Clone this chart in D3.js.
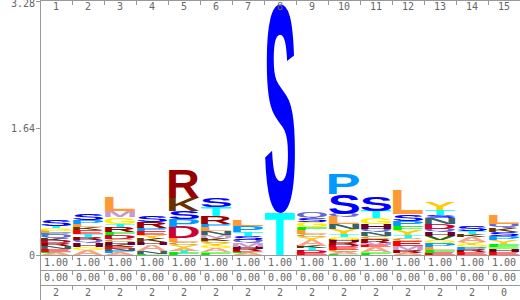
<!DOCTYPE html>
<html>
<head>
<meta charset="utf-8">
<script src="https://cdn.jsdelivr.net/npm/d3@7"></script>
<style>
  body { margin: 0; background: #fff; }
  svg { display: block; }
  .axis text, .lbl { font-family: "DejaVu Sans Mono", monospace; font-size: 10px; fill: #666; }
  .axis line, .axis path, .rule { stroke: #999; shape-rendering: crispEdges; }
</style>
</head>
<body>
<svg id="chart"></svg>
<script>
const positions = [1, 2, 3, 4, 5, 6, 7, 8, 9, 10, 11, 12, 13, 14, 15];
const yTicks = [0, 1.64, 3.28];

// letters of each column, bottom to top
const columnLetters = [
  ["A", "F", "E", "N", "R", "D", "K", "Q", "P", "L", "G", "T", "S"],
  ["A", "G", "H", "Q", "R", "T", "E", "K", "L", "P", "S"],
  ["A", "P", "N", "E", "K", "H", "C", "D", "F", "R", "T", "G", "M", "L"],
  ["F", "N", "A", "H", "K", "Y", "E", "P", "R", "S"],
  ["F", "T", "A", "Y", "C", "L", "D", "P", "S", "K", "R"],
  ["F", "I", "A", "G", "Y", "C", "K", "M", "N", "L", "P", "R", "T", "S"],
  ["A", "F", "E", "R", "H", "M", "Q", "S", "T", "P", "L"],
  ["T", "S"],
  ["E", "D", "T", "K", "A", "Y", "C", "L", "F", "G", "S", "Q"],
  ["F", "A", "C", "E", "D", "R", "H", "G", "T", "Y", "N", "L", "Q", "S", "P"],
  ["F", "I", "A", "E", "M", "R", "C", "N", "Q", "H", "G", "T", "S"],
  ["A", "R", "M", "E", "C", "T", "Y", "F", "P", "S", "L"],
  ["E", "F", "L", "P", "G", "V", "H", "Q", "D", "N", "S", "T", "Y"],
  ["E", "R", "P", "G", "Y", "A", "K", "T", "S"],
  ["E", "H", "I", "F", "Y", "P", "S", "K", "Q", "L"]
];

// information content (bits) of each letter, same order
const columnBits = [
  [0.026, 0.013, 0.039, 0.039, 0.039, 0.026, 0.026, 0.052, 0.026, 0.026, 0.039, 0.026, 0.077],
  [0.065, 0.039, 0.052, 0.039, 0.039, 0.039, 0.052, 0.039, 0.039, 0.052, 0.090],
  [0.026, 0.026, 0.026, 0.026, 0.026, 0.039, 0.039, 0.052, 0.039, 0.065, 0.039, 0.090, 0.077, 0.181],
  [0.013, 0.039, 0.077, 0.039, 0.052, 0.039, 0.052, 0.039, 0.077, 0.090],
  [0.026, 0.026, 0.026, 0.052, 0.039, 0.052, 0.142, 0.103, 0.103, 0.168, 0.362],
  [0.026, 0.013, 0.052, 0.026, 0.039, 0.026, 0.039, 0.039, 0.052, 0.052, 0.039, 0.103, 0.116, 0.116],
  [0.026, 0.013, 0.013, 0.026, 0.026, 0.052, 0.039, 0.052, 0.052, 0.077, 0.077],
  [0.54, 2.70],
  [0.026, 0.039, 0.026, 0.026, 0.077, 0.039, 0.039, 0.052, 0.039, 0.065, 0.052, 0.077],
  [0.013, 0.026, 0.026, 0.039, 0.026, 0.039, 0.026, 0.039, 0.039, 0.065, 0.065, 0.090, 0.039, 0.258, 0.271],
  [0.026, 0.013, 0.065, 0.026, 0.026, 0.052, 0.039, 0.052, 0.039, 0.065, 0.077, 0.090, 0.180],
  [0.026, 0.039, 0.052, 0.065, 0.039, 0.039, 0.065, 0.052, 0.065, 0.090, 0.310],
  [0.026, 0.039, 0.039, 0.052, 0.039, 0.052, 0.052, 0.039, 0.065, 0.077, 0.039, 0.065, 0.090],
  [0.039, 0.026, 0.039, 0.026, 0.039, 0.065, 0.039, 0.039, 0.065],
  [0.039, 0.039, 0.026, 0.039, 0.052, 0.052, 0.052, 0.052, 0.052, 0.116]
];

const row1Labels = ["1.00", "1.00", "1.00", "1.00", "1.00", "1.00", "1.00", "1.00", "1.00", "1.00", "1.00", "1.00", "1.00", "1.00", "1.00"];
const row2Labels = ["0.00", "0.00", "0.00", "0.00", "0.00", "0.00", "0.00", "0.00", "0.00", "0.00", "0.00", "0.00", "0.00", "0.00", "0.00"];
const row3Labels = ["2", "2", "2", "2", "2", "2", "2", "2", "2", "2", "2", "2", "2", "2", "0"];

const letterColors = {
  A: "#f9a184", C: "#cc9933", D: "#cc0033", E: "#ff0000", F: "#00ee00",
  G: "#ffee00", H: "#660033", I: "#88ff66", K: "#663300", L: "#ff9933",
  M: "#cc99cc", N: "#336666", P: "#0099ff", Q: "#6666cc", R: "#990000",
  S: "#0000ff", T: "#00ffff", V: "#336600", W: "#66cc99", Y: "#ffcc00"
};

const width = 520, height = 300;
const margin = { left: 40, right: 0, top: 1, base: 255 };

const svg = d3.select("#chart").attr("width", width).attr("height", height);

const x = d3.scaleBand().domain(positions).range([margin.left, width]);
const y = d3.scaleLinear().domain([0, 3.28]).range([margin.base, margin.top]);

// ink box of each glyph, measured once on a canvas
const glyphFont = "bold 200px 'Liberation Sans', Arial, sans-serif";
const ctx = document.createElement("canvas").getContext("2d");
ctx.font = glyphFont;
const glyphBox = {};
Object.keys(letterColors).forEach(ch => {
  const m = ctx.measureText(ch);
  glyphBox[ch] = {
    left: m.actualBoundingBoxLeft, top: m.actualBoundingBoxAscent,
    w: m.actualBoundingBoxLeft + m.actualBoundingBoxRight,
    h: m.actualBoundingBoxAscent + m.actualBoundingBoxDescent
  };
});

// stacks
const stacks = positions.map((p, i) => {
  let acc = 0;
  return columnLetters[i].map((ch, j) => {
    const v = columnBits[i][j];
    const d = { pos: p, ch: ch, y0: acc, y1: acc + v };
    acc += v;
    return d;
  });
});

const logo = svg.append("g");
logo.selectAll("g.col")
  .data(stacks)
  .join("g")
  .attr("class", "col")
  .selectAll("text")
  .data(d => d)
  .join("text")
  .attr("font-family", "'Liberation Sans', Arial, sans-serif")
  .attr("font-weight", "bold")
  .attr("font-size", 200)
  .attr("fill", d => letterColors[d.ch])
  .attr("transform", d => {
    const b = glyphBox[d.ch];
    const x0 = x(d.pos) + 1, w = x.bandwidth() - 2;
    const top = y(d.y1), h = y(d.y0) - y(d.y1);
    return `translate(${x0},${top}) scale(${w / b.w},${h / b.h}) translate(${b.left},${b.top})`;
  })
  .text(d => d.ch);

// y axis
svg.append("g")
  .attr("class", "axis")
  .attr("transform", `translate(${margin.left},0)`)
  .call(d3.axisLeft(y).tickValues(yTicks).tickSize(4).tickSizeOuter(0).tickPadding(1)
    .tickFormat(d => d === 0 ? "0" : d.toFixed(2)))
  .call(g => g.select(".domain").remove())
  .call(g => g.selectAll(".tick").filter(d => d === 3.28).select("text").attr("dy", "0.55em"));

svg.append("line").attr("class", "rule")
  .attr("x1", margin.left + 0.5).attr("x2", margin.left + 0.5)
  .attr("y1", 0).attr("y2", height);

// top position labels
const bounds = positions.map(p => x(p));
svg.append("line").attr("class", "rule")
  .attr("x1", margin.left).attr("x2", width).attr("y1", 0.5).attr("y2", 0.5);
svg.append("g").selectAll("line")
  .data(bounds.slice(1))
  .join("line").attr("class", "rule")
  .attr("x1", d => d + 0.5).attr("x2", d => d + 0.5)
  .attr("y1", 0).attr("y2", 5);
svg.append("g").selectAll("text")
  .data(positions)
  .join("text").attr("class", "lbl")
  .attr("x", d => x(d) + x.bandwidth() / 2)
  .attr("y", 9.5)
  .attr("text-anchor", "middle")
  .text(d => d);

// bottom rows
const rows = [row1Labels, row2Labels, row3Labels];
rows.forEach((labels, r) => {
  const top = margin.base + 0.5 + r * 15;
  const g = svg.append("g");
  g.append("line").attr("class", "rule")
    .attr("x1", margin.left).attr("x2", width).attr("y1", top).attr("y2", top);
  g.selectAll("line.tk")
    .data(bounds.slice(1))
    .join("line").attr("class", "rule tk")
    .attr("x1", d => d + 0.5).attr("x2", d => d + 0.5)
    .attr("y1", top).attr("y2", top + 4);
  g.selectAll("text")
    .data(labels)
    .join("text").attr("class", "lbl")
    .attr("x", (d, i) => x(positions[i]) + x.bandwidth() / 2)
    .attr("y", top + 10)
    .attr("text-anchor", "middle")
    .text(d => d);
});
</script>
</body>
</html>
